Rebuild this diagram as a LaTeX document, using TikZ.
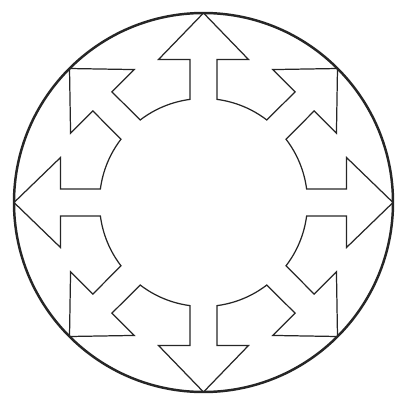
\documentclass[tikz,border=0pt]{standalone}
\usepackage{tikz}
\usetikzlibrary{calc}

\begin{document}
\begin{tikzpicture}[
  x=0.02cm, y=0.02cm,
  rim/.style={draw=black!85, line width=1.4pt},
  spokes/.style={draw=black!85, line width=0.7pt, line join=miter},
]

\useasboundingbox (-203.5,-190.5) rectangle (191.5,202.5);

% Hub
\coordinate (hub) at (0,0);

% Rim
\draw[rim] (hub) circle[radius=189.5];

% Eight arrows round an inner ring, one outline
\draw[spokes] ($(hub)+(-7.5:104)$)
  \foreach \a in {0,45,...,315} {
    -- ([rotate=\a]143,-13.5) -- ([rotate=\a]143,-45)
    -- (\a:189.5)
    -- ([rotate=\a]143,45) -- ([rotate=\a]143,13.5)
    -- ({\a+7.5}:104)
    arc[start angle=\a+7.5, end angle=\a+37.5, radius=104]
  } -- cycle;

\end{tikzpicture}
\end{document}
